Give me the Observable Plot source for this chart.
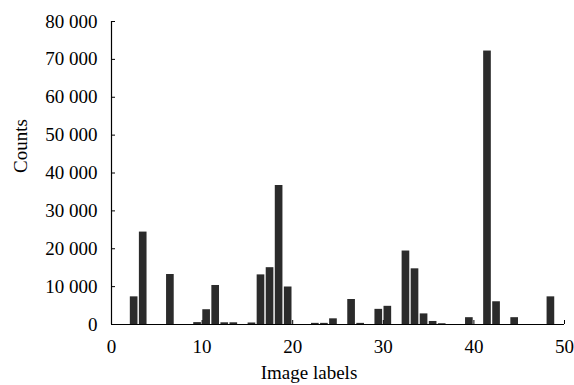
<!DOCTYPE html>
<html>
<head>
<meta charset="utf-8">
<script src="https://cdn.jsdelivr.net/npm/d3@7"></script>
<script src="https://cdn.jsdelivr.net/npm/@observablehq/plot@0.6"></script>
<style>
  html, body { margin: 0; padding: 0; background: #fff; }
  svg { display: block; }
</style>
</head>
<body>
<div id="chart"></div>
<script>
const labels = d3.range(0, 50);
const counts = [
  0, 0, 7300, 24400, 0, 0, 13200, 0, 0, 500,
  3900, 10300, 450, 450, 0, 400, 13100, 15000, 36700, 9900,
  0, 0, 300, 300, 1500, 0, 6600, 300, 0, 4000,
  4800, 0, 19400, 14700, 2800, 800, 200, 0, 0, 1800,
  0, 72200, 6000, 0, 1800, 0, 0, 0, 7300, 0
];
const xTicks = [0, 10, 20, 30, 40, 50];
const yTicks = [0, 10000, 20000, 30000, 40000, 50000, 60000, 70000, 80000];
const xLabel = "Image labels";
const yLabel = "Counts";

const data = labels.map((k, i) => ({label: k, count: counts[i]}));
const fmt = d => d3.format(",")(d).replace(/,/g, " ");

const chart = Plot.plot({
  width: 574,
  height: 385,
  marginLeft: 111,
  marginRight: 10,
  marginTop: 21,
  marginBottom: 61,
  style: {fontFamily: "'Liberation Serif', 'Times New Roman', serif", fontSize: "19px", color: "#000", background: "#fff"},
  x: {domain: [0, 50]},
  y: {domain: [0, 80000]},
  marks: [
    Plot.rectY(data, {x1: "label", x2: d => d.label + 1, y: "count", fill: "#2b2b2b", insetLeft: 0.7, insetRight: 0.7}),
    Plot.ruleY([0], {stroke: "#000", strokeWidth: 1.2}),
    Plot.ruleX([0], {stroke: "#000", strokeWidth: 1.2}),
    Plot.axisY(yTicks, {tickSize: 0, tickPadding: 14, tickFormat: fmt, label: null, fill: "#000", fontFamily: "'Liberation Serif', serif"}),
    Plot.axisY(yTicks, {tickSize: -4, fill: "none", label: null, stroke: "#000"}),
    Plot.axisX(xTicks, {tickSize: 0, tickPadding: 15, label: null, fill: "#000", fontFamily: "'Liberation Serif', serif"}),
    Plot.axisX(xTicks, {tickSize: -4, fill: "none", label: null, stroke: "#000"}),
    Plot.text([xLabel], {frameAnchor: "bottom", dx: -29, dy: 54, fill: "#000", fontSize: 19}),
    Plot.text([yLabel], {frameAnchor: "left", dx: -91, rotate: -90, fill: "#000", fontSize: 19})
  ]
});
document.getElementById("chart").append(chart);
</script>
</body>
</html>
